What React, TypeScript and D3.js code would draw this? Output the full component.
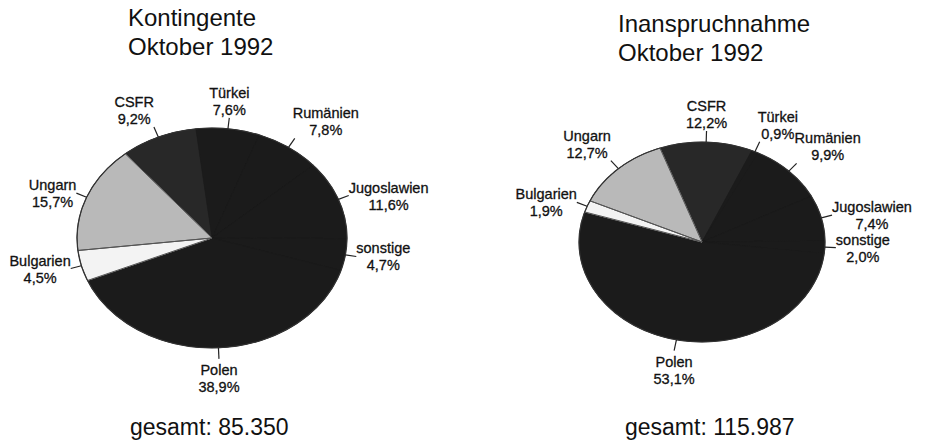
import React, { useEffect, useRef } from 'react';
import * as d3 from 'd3';

// shares in percent, same slice order for both pies (clockwise from CSFR)
const categories = ['CSFR', 'Türkei', 'Rumänien', 'Jugoslawien', 'sonstige', 'Polen', 'Bulgarien', 'Ungarn'];
const kontingente = [9.2, 7.6, 7.8, 11.6, 4.7, 38.9, 4.5, 15.7];
const inanspruchnahme = [12.2, 0.9, 9.9, 7.4, 2.0, 53.1, 1.9, 12.7];
const titleLines = [['Kontingente', 'Oktober 1992'], ['Inanspruchnahme', 'Oktober 1992']];
const totals = ['85.350', '115.987'];

const sliceColors = ['#282828', '#1b1b1b', '#1b1b1b', '#1b1b1b', '#1b1b1b', '#1b1b1b', '#f3f3f3', '#b9b9b9'];

const W = 925, H = 445;
const FONT = '"Liberation Sans", Arial, Helvetica, sans-serif';

const fmt = (v: number) => d3.format('.1f')(v).replace('.', ',') + '%';

const App = () => {
    const ref = useRef<SVGSVGElement>(null);

    useEffect(() => {
        if (!ref.current) return;
        const svg = d3.select(ref.current);
        svg.selectAll('*').remove();

        const charts = [
            { values: kontingente, cx: 212, cy: 238, rx: 135, ry: 110, start: -40, titleX: 128, titleY: 26, totalX: 130 },
            { values: inanspruchnahme, cx: 702, cy: 242, rx: 123, ry: 100, start: -20, titleX: 618, titleY: 32, totalX: 625 },
        ];

        charts.forEach((c, ci) => {
            const data = categories.map((name, i) => ({ name, value: c.values[i], color: sliceColors[i] }));
            const s = (c.start * Math.PI) / 180;
            const pie = d3.pie<any>().sort(null).value((d) => d.value).startAngle(s).endAngle(s + 2 * Math.PI);
            const arcs = pie(data);
            const arc = d3.arc<any>().innerRadius(0).outerRadius(c.rx);

            // title
            svg.append('text')
                .attr('font-family', FONT)
                .attr('font-size', 24)
                .attr('fill', '#111')
                .selectAll('tspan')
                .data(titleLines[ci])
                .enter().append('tspan')
                .attr('x', c.titleX)
                .attr('y', (d, i) => c.titleY + i * 29)
                .text((d) => d);

            // pie squashed into an ellipse
            const g = svg.append('g')
                .attr('transform', `translate(${c.cx},${c.cy}) scale(1,${c.ry / c.rx})`);

            // dark base so the black slices show no seams
            g.append('circle')
                .attr('r', c.rx)
                .attr('fill', '#1b1b1b');

            g.selectAll('path.slice')
                .data(arcs)
                .enter().append('path')
                .attr('class', 'slice')
                .attr('d', arc)
                .attr('fill', (d: any) => d.data.color)
                .attr('stroke', (d: any) => d.data.color)
                .attr('stroke-width', 0.6)
                .attr('vector-effect', 'non-scaling-stroke');

            // thin separators only around the light slices
            g.selectAll('path.light')
                .data(arcs.filter((d: any) => d.data.color > '#8'))
                .enter().append('path')
                .attr('class', 'light')
                .attr('d', arc)
                .attr('fill', 'none')
                .attr('stroke', '#555')
                .attr('stroke-width', 1)
                .attr('vector-effect', 'non-scaling-stroke');

            g.append('circle')
                .attr('r', c.rx)
                .attr('fill', 'none')
                .attr('stroke', '#333')
                .attr('stroke-width', 1.2)
                .attr('vector-effect', 'non-scaling-stroke');

            // labels with leader lines at slice mid angle
            arcs.forEach((a: any) => {
                const mid = (a.startAngle + a.endAngle) / 2;
                let deg = ((mid * 180) / Math.PI) % 360;
                if (deg < 0) deg += 360;
                const sx = Math.sin(mid), sy = -Math.cos(mid);
                const x0 = c.cx + c.rx * sx, y0 = c.cy + c.ry * sy;
                const x1 = c.cx + (c.rx + 11) * sx, y1 = c.cy + (c.ry + 11) * sy;

                svg.append('line')
                    .attr('x1', x0).attr('y1', y0)
                    .attr('x2', x1).attr('y2', y1)
                    .attr('stroke', '#222')
                    .attr('stroke-width', 1.2);

                const t = svg.append('text')
                    .attr('font-family', FONT)
                    .attr('font-size', 14.5)
                    .attr('fill', '#111')
                    .attr('stroke', '#111')
                    .attr('stroke-width', 0.3);
                const l1 = t.append('tspan').text(a.data.name);
                const w = (l1.node() as SVGTSpanElement).getComputedTextLength();

                let cxText = x1, base1 = y1 - 3;
                if (deg >= 345 || deg < 15) { cxText = x1; base1 = y1 - 3 - 17; }
                else if (deg < 60) { cxText = x1 - 2 + w / 2; base1 = y1 - 3 - 17; }
                else if (deg < 135) { cxText = x1 + w / 2; base1 = y1 - 3; }
                else if (deg < 225) { cxText = x1; base1 = y1 + 16; }
                else if (deg < 300) { cxText = x1 - w / 2; base1 = y1 - 3; }
                else { cxText = x1 - w / 2; base1 = y1 - 3 - 17; }

                t.attr('text-anchor', 'middle');
                l1.attr('x', cxText).attr('y', base1);
                t.append('tspan').attr('x', cxText).attr('y', base1 + 17).text(fmt(a.data.value));
            });

            // total
            svg.append('text')
                .attr('x', c.totalX)
                .attr('y', 435)
                .attr('font-family', FONT)
                .attr('font-size', 23)
                .attr('fill', '#111')
                .text('gesamt: ' + totals[ci]);
        });
    }, []);

    return (
        <svg ref={ref} width={W} height={H} style={{ position: 'absolute', left: 0, top: 0, background: '#fff' }}></svg>
    );
};

export default App;
